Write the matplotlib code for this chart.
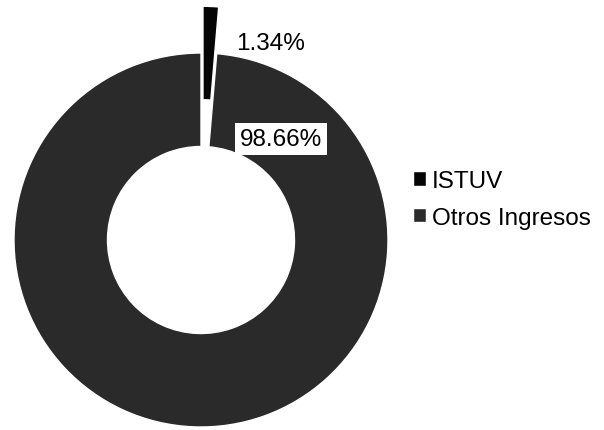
import matplotlib
matplotlib.use("Agg")
import matplotlib.pyplot as plt

# data
labels = ["ISTUV", "Otros Ingresos"]
values = [1.34, 98.66]
colors = ["#050505", "#2a2a2a"]

plt.rcParams['font.family'] = ['Liberation Sans', 'DejaVu Sans']

W, H = 604, 431
fig = plt.figure(figsize=(W / 100, H / 100), dpi=100)
ax = fig.add_axes([0, 0, 1, 1])

# doughnut, starting at 12 o'clock and going clockwise, first slice pulled out
wedges, _ = ax.pie(values, colors=colors, startangle=90, counterclock=False,
                   explode=[0.25, 0], radius=1,
                   wedgeprops=dict(width=0.5, edgecolor='white', linewidth=1))

# place the unit circle on the canvas (centre px, radius px)
cx, cy, r = 201, 241, 187
ax.set_xlim(-cx / r, (W - cx) / r)
ax.set_ylim(-(H - cy) / r, cy / r)
ax.set_aspect('auto')
ax.axis('off')

# percentage labels
fig.text(271 / W, 1 - 44 / H, f"{values[0]:.2f}%", fontsize=17.5,
         ha='center', va='center')
fig.text(281 / W, 1 - 140 / H, f"{values[1]:.2f}%", fontsize=17.5,
         ha='center', va='center',
         bbox=dict(boxstyle='square,pad=0.2', fc='white', ec='none'))

# legend
fig.legend(wedges, labels, loc='upper left',
           bbox_to_anchor=(413 / W, 1 - 171 / H),
           frameon=False, fontsize=17.5, handlelength=0.55, handleheight=0.55,
           handletextpad=0.22, labelspacing=0.6, borderpad=0, borderaxespad=0)

plt.savefig("out.png", dpi=100)
